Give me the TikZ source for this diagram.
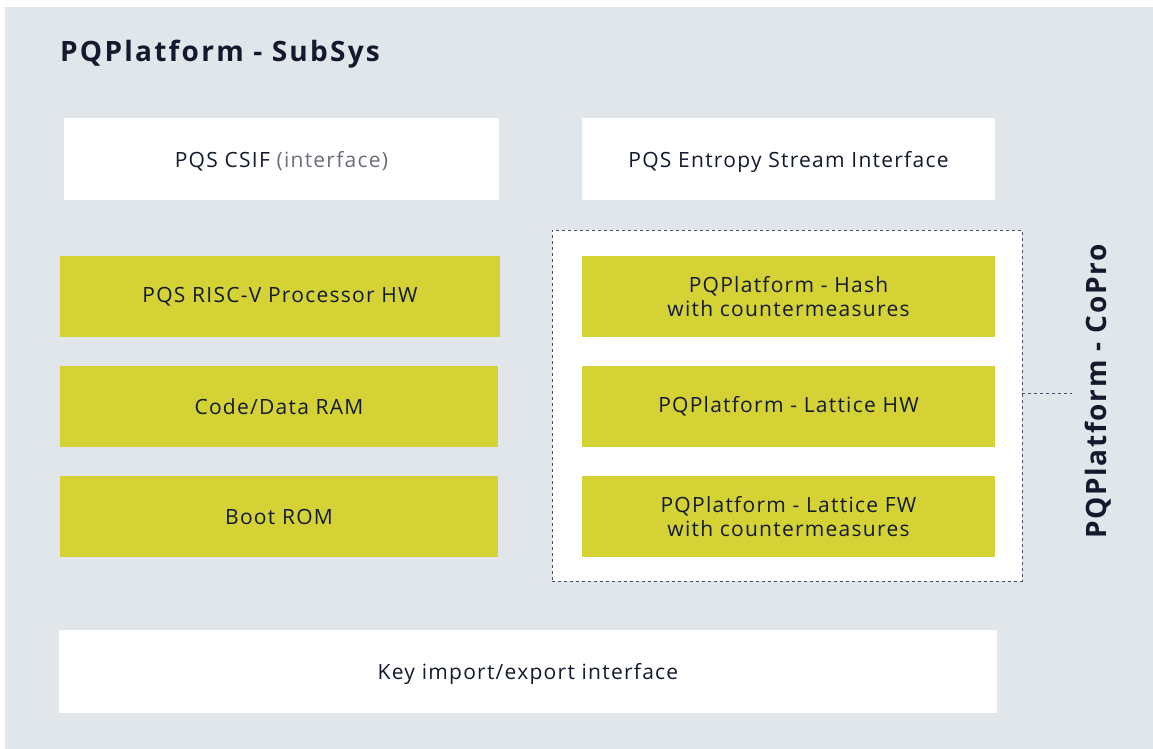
\documentclass[tikz,border=0pt]{standalone}
\usepackage{fontspec}
\setmainfont{Open Sans}
\definecolor{bggray}{HTML}{E1E6EA}
\definecolor{olive}{HTML}{D4D235}
\definecolor{ink}{HTML}{141A2E}
\definecolor{dashc}{HTML}{4A4F6A}
\definecolor{lightink}{HTML}{6B6E7A}
\begin{document}
\begin{tikzpicture}[x=1pt,y=-1pt,
  bodyfont/.style={font=\fontsize{21}{24}\selectfont\addfontfeature{LetterSpace=6}},
  whitebox/.style={fill=white,draw=none,text=ink,bodyfont,align=center,inner sep=0pt,text depth=0pt},
  olivebox/.style={fill=olive,draw=none,text=ink,bodyfont,align=center,inner sep=0pt},
  dashedbox/.style={draw=dashc,dashed,fill=white,line width=0.8pt},
  titletext/.style={text=ink,font=\fontsize{28}{32}\selectfont\bfseries\addfontfeature{LetterSpace=8},inner sep=0pt}]
\useasboundingbox (0,0) rectangle (1153,749);
\fill[white] (0,0) rectangle (1153,749);
\fill[bggray] (5,7) rectangle (1153,749);
\node[titletext,anchor=base west] (title) at (60,62) {PQPlatform - SubSys};
\node[whitebox,minimum width=435pt,minimum height=82pt] (csif) at (281.5,159) {PQS CSIF \textcolor{lightink}{(interface)}};
\node[whitebox,minimum width=413pt,minimum height=82pt] (entropy) at (788.5,159) {PQS Entropy Stream Interface};
\node[dashedbox,minimum width=470pt,minimum height=351pt,inner sep=0pt] (copro) at (787,405.5) {};
\node[olivebox,minimum width=440pt,minimum height=81pt] (risc) at (280,296.5) {PQS RISC-V Processor HW};
\node[olivebox,minimum width=438pt,minimum height=81pt] (ram) at (279,406.5) {Code/Data RAM};
\node[olivebox,minimum width=438pt,minimum height=81pt] (rom) at (279,516.5) {Boot ROM};
\node[olivebox,minimum width=413pt,minimum height=81pt] (hash) at (788.5,296.5) {PQPlatform - Hash\\with countermeasures};
\node[olivebox,minimum width=413pt,minimum height=81pt] (lhw) at (788.5,406.5) {PQPlatform - Lattice HW};
\node[olivebox,minimum width=413pt,minimum height=81pt] (lfw) at (788.5,516.5) {PQPlatform - Lattice FW\\with countermeasures};
\node[whitebox,minimum width=938pt,minimum height=83pt] (key) at (528,671.5) {Key import/export interface};
\node[titletext,rotate=90,font=\fontsize{28}{32}\selectfont\bfseries\addfontfeature{LetterSpace=6}] (coprolabel) at (1098,391.5) {PQPlatform - CoPro};
\coordinate (lend) at (1072,393);
\draw[dashc,dashed,line width=0.8pt] (copro.east |- lend) -- (lend);
\end{tikzpicture}
\end{document}
